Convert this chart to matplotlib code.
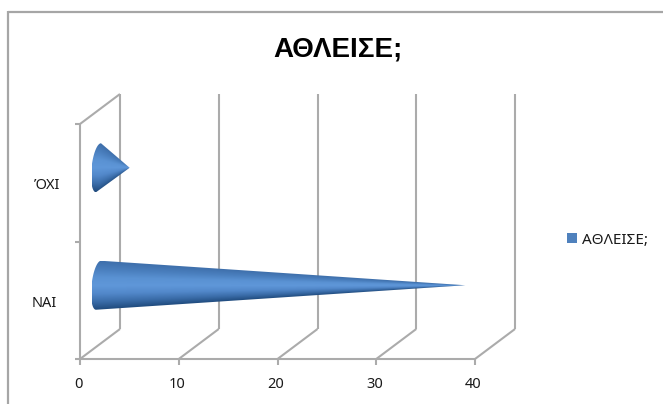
import numpy as np
import matplotlib
matplotlib.use("Agg")
import matplotlib.pyplot as plt
from matplotlib.patches import Polygon, Rectangle
from matplotlib.colors import LinearSegmentedColormap

categories = ["ΝΑΙ", "ΌΧΙ"]
values = [37, 3]
x_ticks = [0, 10, 20, 30, 40]
title = "ΑΘΛΕΙΣΕ;"
series_name = "ΑΘΛΕΙΣΕ;"

W, H = 663, 404
GRID = "#ababab"
plt.rcParams["font.family"] = ["Noto Sans", "DejaVu Sans"]
fig = plt.figure(figsize=(W / 100, H / 100), dpi=100, facecolor="white")

bg = fig.add_axes([0, 0, 1, 1])
bg.set_xlim(0, W); bg.set_ylim(H, 0); bg.axis("off")
bg.plot([8, 8], [11, H], color="#a6a6a6", lw=1.6, solid_capstyle="butt")
bg.plot([8, W], [11.5, 11.5], color="#a6a6a6", lw=1.6, solid_capstyle="butt")

L, R, T, B = 80, 475, 124, 359
ax = fig.add_axes([L / W, 1 - B / H, (R - L) / W, (B - T) / H])
ax.axis("off")
px_x = 40 / (R - L)
px_y = 2 / (B - T)
dx = 40 * px_x
dy = 30 * px_y
kw = dict(color=GRID, lw=1.5, clip_on=False, solid_capstyle="butt", zorder=1)

ax.plot([0, 40], [0, 0], **kw)
ax.plot([0, 0], [0, 2], **kw)
ax.plot([0, dx], [2, 2 + dy], **kw)
for t in x_ticks:
    ax.plot([t, t + dx], [0, dy], **kw)
    ax.plot([t + dx, t + dx], [dy, 2 + dy], **kw)
    ax.plot([t, t], [0, -6 * px_y], **kw)
    ax.text(t - 1.5 * px_x, -25 * px_y, str(t), ha="center", va="center",
            fontsize=10.5, color="#1a1a1a", clip_on=False)
for c in range(3):
    ax.plot([-5 * px_x, 0], [c, c], **kw)
label_dx = [-36, -33]
for i, c in enumerate(categories):
    ax.text(label_dx[i] * px_x, i + 0.5 - 6.5 * px_y, c, ha="center", va="baseline",
            fontsize=10.5, color="#1a1a1a", clip_on=False)

cmap = LinearSegmentedColormap.from_list(
    "cone", ["#1f4a7c", "#3a6ca8", "#5288ca", "#5f97d9", "#5a92d3", "#4a7fbe", "#3f70ac"])
half_h = 24.5 * px_y
half_w = 7 * px_x
shear = 2.5 * px_x
centre_x = dx / 2 - 1.5 * px_x
for i, v in enumerate(values):
    cy = i + 0.5 + dy / 2
    tipx = dx / 2 + v
    t = np.linspace(np.pi / 2, 3 * np.pi / 2, 40)
    ex = centre_x + half_w * np.cos(t) + shear * np.sin(t)
    ey = cy + half_h * np.sin(t)
    poly = Polygon(np.column_stack([np.r_[ex, tipx], np.r_[ey, cy]]), closed=True,
                   transform=ax.transData, fc="none", ec="none")
    ax.add_patch(poly)
    xs = np.linspace(centre_x - half_w, tipx, 500)
    ys = np.linspace(cy - half_h, cy + half_h, 200)
    X, Y = np.meshgrid(xs, ys)
    local = half_h * np.clip((tipx - X) / (tipx - centre_x), 0.02, 1.0)
    norm = np.clip((Y - cy) / local, -1, 1)
    im = ax.imshow((norm + 1) / 2, cmap=cmap, vmin=0, vmax=1, origin="lower",
                   aspect="auto", zorder=3, interpolation="bilinear",
                   extent=[xs[0], xs[-1], ys[0], ys[-1]])
    im.set_clip_path(poly)
ax.set_xlim(0, 40); ax.set_ylim(0, 2)

bg.text(337.5, 56.5, title, ha="center", va="baseline", fontsize=20, fontweight="bold",
        family=["Liberation Sans", "DejaVu Sans"], color="black")
bg.add_patch(Rectangle((567, 233), 10, 10, fc="#4f81bd", ec="none"))
bg.text(582, 244, series_name, ha="left", va="baseline", fontsize=11, color="#1a1a1a")

fig.savefig("out.png", dpi=100, facecolor="white")
